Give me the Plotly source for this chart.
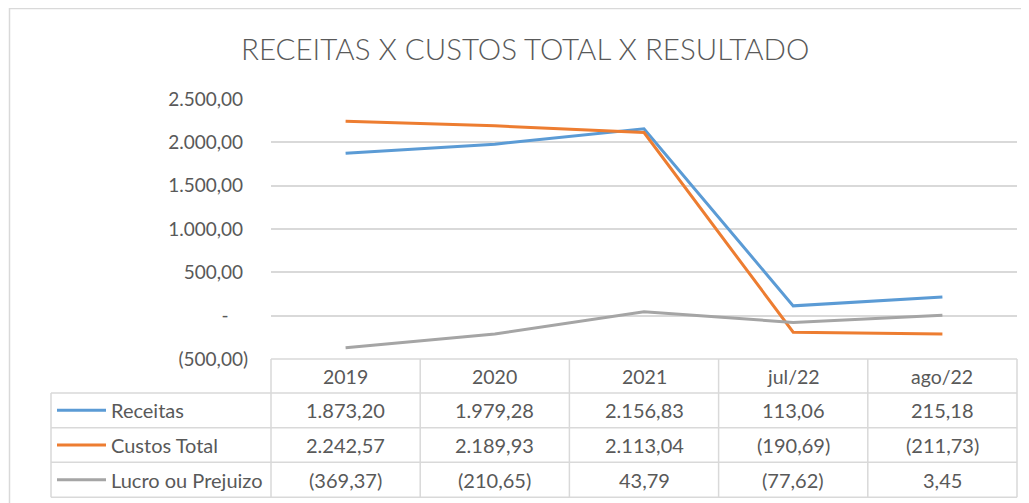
import plotly.graph_objects as go

# ---- data ----
categories = ["2019", "2020", "2021", "jul/22", "ago/22"]
receitas = [1873.20, 1979.28, 2156.83, 113.06, 215.18]
custos_total = [2242.57, 2189.93, 2113.04, -190.69, -211.73]
lucro_prejuizo = [-369.37, -210.65, 43.79, -77.62, 3.45]
series_names = ["Receitas", "Custos Total", "Lucro ou Prejuizo"]
series_colors = ["#5B9BD5", "#ED7D31", "#A5A5A5"]
y_ticks = [-500, 0, 500, 1000, 1500, 2000, 2500]
title_text = "RECEITAS X CUSTOS TOTAL X RESULTADO"

W, H = 1029, 503
OFF = 8  # page offset of the figure inside the browser window
TXT = "#595959"
GRID = "#D9D9D9"
FONT = "Lato"


def br(v):
    s = f"{abs(v):,.2f}".replace(",", "X").replace(".", ",").replace("X", ".")
    return f"({s})" if v < 0 else s


def tick_label(v):
    if v == 0:
        return "-" + "\u00a0" * 4
    return br(v) if v < 0 else br(v) + "\u00a0"


def px(x):
    return (x - OFF) / W


def py(y):
    return 1 - (y - OFF) / H


# layout geometry (window pixels)
PL, PR = 271, 1017      # plot left/right
PT, PB = 99, 359        # plot top (2500) / bottom (-500)
TL = 51                 # table left
row_lines = [359, 393, 427.7, 462.3, 497.3]
n = len(categories)
colw = (PR - PL) / n

series = [receitas, custos_total, lucro_prejuizo]

fig = go.Figure()
for name, vals, col in zip(series_names, series, series_colors):
    fig.add_trace(go.Scatter(
        x=list(range(n)), y=vals, mode="lines", name=name,
        line=dict(color=col, width=3), showlegend=False,
        hoverinfo="x+y"))

shapes = []
annotations = []

# chart border (top & left visible)
shapes.append(dict(type="line", xref="paper", yref="paper",
                   x0=px(9), x1=px(W + 30), y0=py(8.5), y1=py(8.5),
                   line=dict(color=GRID, width=1.5)))
shapes.append(dict(type="line", xref="paper", yref="paper",
                   x0=px(9.5), x1=px(9.5), y0=py(8), y1=py(H + 30),
                   line=dict(color=GRID, width=1.5)))

# table lines
for i, yl in enumerate(row_lines):
    x0 = PL if i == 0 else TL
    shapes.append(dict(type="line", xref="paper", yref="paper",
                       x0=px(x0), x1=px(PR), y0=py(yl), y1=py(yl),
                       line=dict(color=GRID, width=1.5)))
shapes.append(dict(type="line", xref="paper", yref="paper",
                   x0=px(TL), x1=px(TL), y0=py(row_lines[1]), y1=py(row_lines[-1]),
                   line=dict(color=GRID, width=1.5)))
for k in range(n + 1):
    xv = PL + k * colw
    shapes.append(dict(type="line", xref="paper", yref="paper",
                       x0=px(xv), x1=px(xv), y0=py(row_lines[0]), y1=py(row_lines[-1]),
                       line=dict(color=GRID, width=1.5)))

# header texts
for k, c in enumerate(categories):
    annotations.append(dict(xref="paper", yref="paper",
                            x=px(PL + (k + 0.5) * colw),
                            y=py((row_lines[0] + row_lines[1]) / 2),
                            text=c, showarrow=False, xanchor="center", yanchor="middle",
                            font=dict(family=FONT, size=19.5, color=TXT)))

# rows
for r, (name, vals, col) in enumerate(zip(series_names, series, series_colors)):
    yc = (row_lines[r + 1] + row_lines[r + 2]) / 2
    shapes.append(dict(type="line", xref="paper", yref="paper",
                       x0=px(57), x1=px(106), y0=py(yc), y1=py(yc),
                       line=dict(color=col, width=3)))
    annotations.append(dict(xref="paper", yref="paper", x=px(109), y=py(yc),
                            text=name, showarrow=False, xanchor="left", yanchor="middle",
                            font=dict(family=FONT, size=20, color=TXT)))
    for k, v in enumerate(vals):
        annotations.append(dict(xref="paper", yref="paper",
                                x=px(PL + (k + 0.5) * colw), y=py(yc),
                                text=br(v), showarrow=False, xanchor="center", yanchor="middle",
                                font=dict(family=FONT, size=20, color=TXT)))

# title
annotations.append(dict(xref="paper", yref="paper", x=px(525), y=py(48),
                        text=title_text, showarrow=False, xanchor="center", yanchor="middle",
                        font=dict(family=FONT, size=29.5, color=TXT, weight=300)))

fig.update_layout(
    width=W, height=H, autosize=False,
    margin=dict(l=0, r=0, t=0, b=0, pad=0),
    paper_bgcolor="white", plot_bgcolor="white",
    shapes=shapes, annotations=annotations,
    xaxis=dict(domain=[px(PL), px(PR)], range=[-0.5, n - 0.5],
               showgrid=False, zeroline=False, showticklabels=False,
               showline=False, fixedrange=True, automargin=False),
    yaxis=dict(domain=[py(PB), py(PT)], range=[-500, 2500],
               tickvals=y_ticks, ticktext=[tick_label(v) for v in y_ticks],
               showgrid=True, gridcolor=GRID, gridwidth=1.5,
               zeroline=False, showline=False, ticks="",
               ticklabelstandoff=22, automargin=False,
               tickfont=dict(family=FONT, size=19, color=TXT), fixedrange=True),
)

fig.write_html("out.html")
